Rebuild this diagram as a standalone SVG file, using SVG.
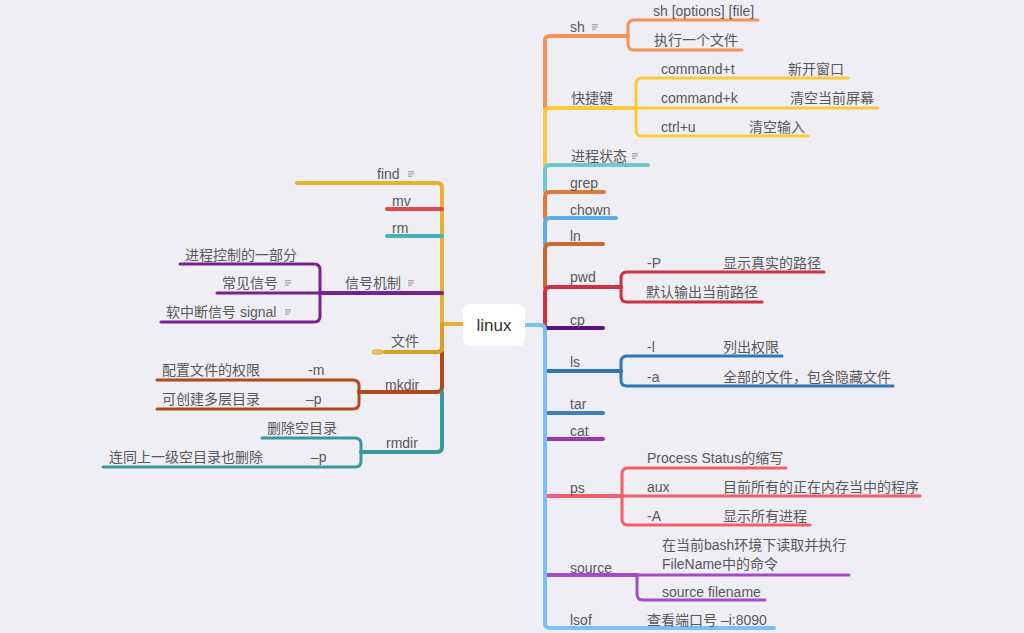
<svg xmlns="http://www.w3.org/2000/svg" width="1024" height="633" viewBox="0 0 1024 633">
<defs>
<style>
text{font-family:"Liberation Sans","Noto Sans CJK SC",sans-serif;font-size:14px;fill:#585858}
.root{font-size:17px;fill:#333}
path{fill:none;stroke-linecap:round;stroke-linejoin:round}
.b{stroke-width:4}
.l{stroke-width:3}
</style>
<g id="note">
<rect x="0" y="0" width="6" height="1.3" fill="#aaa"/>
<rect x="0" y="2.3" width="6" height="1.3" fill="#aaa"/>
<rect x="0" y="4.6" width="4" height="1.3" fill="#aaa"/>
</g>
</defs>
<rect width="1024" height="633" fill="#efeef4"/>

<g id="connectors">
<!-- right side -->
<path class="b" stroke="#f5925a" d="M545,108 V41 Q545,36 550,36 H628"/>
<path class="l" stroke="#f5925a" d="M628,36 V26 Q628,20 634,20 H758"/>
<path class="l" stroke="#f5925a" d="M628,36 V44 Q628,50 634,50 H742"/>
<path class="b" stroke="#fbc93c" d="M545,165 V113 Q545,108 550,108 H636"/>
<path class="l" stroke="#fbc93c" d="M636,108 V84 Q636,78 642,78 H848"/>
<path class="l" stroke="#fbc93c" d="M636,108 H878"/>
<path class="l" stroke="#fbc93c" d="M636,108 V130 Q636,136 642,136 H808"/>
<path class="b" stroke="#6ecaca" d="M545,192 V170 Q545,165 550,165 H648"/>
<path class="b" stroke="#e07838" d="M545,218 V197 Q545,192 550,192 H604"/>
<path class="b" stroke="#5aaee8" d="M545,244 V223 Q545,218 550,218 H616"/>
<path class="b" stroke="#c86a30" d="M545,287 V249 Q545,244 550,244 H603"/>
<path class="b" stroke="#d03040" d="M545,328 V292 Q545,287 550,287 H621"/>
<path class="l" stroke="#d03040" d="M621,287 V278 Q621,272 627,272 H824"/>
<path class="l" stroke="#d03040" d="M621,287 V296 Q621,302 627,302 H762"/>
<path class="b" stroke="#5a1080" d="M545,328 H603"/>
<path class="b" stroke="#2e78b8" d="M545,371 H621"/>
<path class="l" stroke="#2e78b8" d="M621,371 V362 Q621,356 627,356 H782"/>
<path class="l" stroke="#2e78b8" d="M621,371 V380 Q621,386 627,386 H893"/>
<path class="b" stroke="#3a80c0" d="M545,413 H603"/>
<path class="b" stroke="#9a38b0" d="M545,439 H603"/>
<path class="b" stroke="#f25d6a" d="M545,496 H622"/>
<path class="l" stroke="#f25d6a" d="M622,496 V474 Q622,468 628,468 H786"/>
<path class="l" stroke="#f25d6a" d="M622,496 H920"/>
<path class="l" stroke="#f25d6a" d="M622,496 V519 Q622,525 628,525 H810"/>
<path class="b" stroke="#a44cc8" d="M545,575 H637"/>
<path class="l" stroke="#a44cc8" d="M637,575 H849"/>
<path class="l" stroke="#a44cc8" d="M637,575 V594 Q637,600 643,600 H765"/>
<path class="b" stroke="#78c0f8" d="M525,325 H540 Q545,325 545,330 V623 Q545,628 550,628 H774"/>
<!-- left side -->
<path class="b" stroke="#e6b030" d="M463,324 H442 V188 Q442,183 437,183 H297"/>
<path class="b" stroke="#e04850" d="M442,209 H387"/>
<path class="b" stroke="#4ab0b8" d="M442,236 H387"/>
<path class="b" stroke="#7a2090" d="M442,293 H320"/>
<path class="l" stroke="#7a2090" d="M320,293 V270 Q320,264 314,264 H180"/>
<path class="l" stroke="#7a2090" d="M320,293 H217"/>
<path class="l" stroke="#7a2090" d="M320,293 V316 Q320,322 314,322 H161"/>
<path class="b" stroke="#b04818" d="M442,352 V387 Q442,392 437,392 H359"/>
<path class="l" stroke="#b04818" d="M359,392 V386 Q359,380 353,380 H157"/>
<path class="l" stroke="#b04818" d="M359,392 V403 Q359,409 353,409 H157"/>
<path class="b" stroke="#38989c" d="M442,392 V447 Q442,452 437,452 H361"/>
<path class="l" stroke="#38989c" d="M361,452 V444 Q361,438 355,438 H262"/>
<path class="l" stroke="#38989c" d="M361,452 V461 Q361,467 355,467 H103"/>
<path class="b" stroke="#d8a020" d="M442,324 V347 Q442,352 437,352 H385"/>
</g>

<g id="linux">
<rect x="463" y="304" width="62" height="42" rx="7" fill="#ffffff"/>
<text class="root" x="494" y="331" text-anchor="middle">linux</text>
</g>

<g id="sh"><text x="570" y="32">sh</text><use href="#note" x="592" y="24"/></g>
<g id="sh-1"><text x="653" y="16">sh [options] [file]</text></g>
<g id="sh-2"><text x="654" y="45">执行一个文件</text></g>
<g id="kuaijiejian"><text x="571" y="103">快捷键</text></g>
<g id="cmd-t"><text x="661" y="74">command+t</text><text x="788" y="74">新开窗口</text></g>
<g id="cmd-k"><text x="661" y="103">command+k</text><text x="790" y="103">清空当前屏幕</text></g>
<g id="ctrl-u"><text x="661" y="132">ctrl+u</text><text x="749" y="132">清空输入</text></g>
<g id="jincheng"><text x="571" y="161">进程状态</text><use href="#note" x="632" y="153"/></g>
<g id="grep"><text x="570" y="188">grep</text></g>
<g id="chown"><text x="570" y="215">chown</text></g>
<g id="ln"><text x="570" y="241">ln</text></g>
<g id="pwd"><text x="570" y="282">pwd</text></g>
<g id="pwd-P"><text x="647" y="268">-P</text><text x="723" y="268">显示真实的路径</text></g>
<g id="pwd-def"><text x="646" y="297">默认输出当前路径</text></g>
<g id="cp"><text x="570" y="325">cp</text></g>
<g id="ls"><text x="570" y="367">ls</text></g>
<g id="ls-l"><text x="647" y="352">-l</text><text x="723" y="352">列出权限</text></g>
<g id="ls-a"><text x="647" y="382">-a</text><text x="723" y="382">全部的文件，包含隐藏文件</text></g>
<g id="tar"><text x="570" y="409">tar</text></g>
<g id="cat"><text x="570" y="436">cat</text></g>
<g id="ps"><text x="570" y="493">ps</text></g>
<g id="ps-1"><text x="647" y="463">Process Status的缩写</text></g>
<g id="ps-aux"><text x="647" y="492">aux</text><text x="723" y="492">目前所有的正在内存当中的程序</text></g>
<g id="ps-A"><text x="647" y="521">-A</text><text x="723" y="521">显示所有进程</text></g>
<g id="source"><text x="570" y="573">source</text></g>
<g id="source-1"><text x="662" y="550">在当前bash环境下读取并执行</text><text x="662" y="569">FileName中的命令</text></g>
<g id="source-2"><text x="662" y="597">source filename</text></g>
<g id="lsof"><text x="570" y="625">lsof</text><text x="647" y="625">查看端口号 –i:8090</text></g>

<g id="find"><text x="377" y="179">find</text><use href="#note" x="408" y="171"/></g>
<g id="mv"><text x="392" y="206">mv</text></g>
<g id="rm"><text x="392" y="233">rm</text></g>
<g id="xinhao"><text x="345" y="288">信号机制</text><use href="#note" x="408" y="280"/></g>
<g id="xinhao-1"><text x="185" y="260">进程控制的一部分</text></g>
<g id="xinhao-2"><text x="222" y="288">常见信号</text><use href="#note" x="285" y="280"/></g>
<g id="xinhao-3"><text x="166" y="317">软中断信号 signal</text><use href="#note" x="285" y="309"/></g>
<g id="wenjian"><text x="391" y="346">文件</text>
<rect x="372" y="349.5" width="11" height="5" rx="2.5" fill="#e6b030"/>
<circle cx="375" cy="352" r="0.8" fill="#fff4c8"/><circle cx="377.5" cy="352" r="0.8" fill="#fff4c8"/><circle cx="380" cy="352" r="0.8" fill="#fff4c8"/>
</g>
<g id="mkdir"><text x="385" y="390">mkdir</text></g>
<g id="mkdir-m"><text x="308" y="375">-m</text><text x="162" y="375">配置文件的权限</text></g>
<g id="mkdir-p"><text x="306" y="404">–p</text><text x="162" y="404">可创建多层目录</text></g>
<g id="rmdir"><text x="386" y="448">rmdir</text></g>
<g id="rmdir-1"><text x="267" y="433">删除空目录</text></g>
<g id="rmdir-p"><text x="311" y="462">–p</text><text x="109" y="462">连同上一级空目录也删除</text></g>
</svg>
